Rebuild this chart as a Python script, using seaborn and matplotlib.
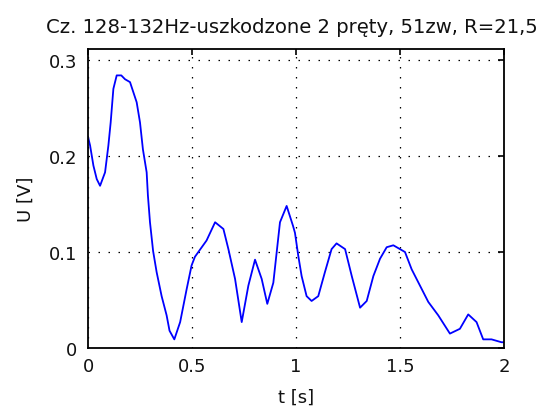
import matplotlib
matplotlib.use("Agg")
import matplotlib.pyplot as plt
import seaborn as sns
import pandas as pd

# time axis [s] and measured amplitude [V]
t = [0.000, 0.010, 0.026, 0.042, 0.058, 0.082, 0.098, 0.109, 0.122, 0.138,
     0.160, 0.178, 0.202, 0.234, 0.250, 0.264, 0.282, 0.288, 0.298, 0.313,
     0.330, 0.354, 0.378, 0.392, 0.415, 0.443, 0.474, 0.498, 0.514, 0.570,
     0.611, 0.651, 0.675, 0.707, 0.739, 0.771, 0.803, 0.835, 0.862, 0.891,
     0.923, 0.955, 0.986, 0.995, 1.011, 1.027, 1.051, 1.075, 1.107, 1.139,
     1.171, 1.195, 1.236, 1.268, 1.308, 1.340, 1.372, 1.404, 1.436, 1.468,
     1.524, 1.556, 1.596, 1.636, 1.684, 1.740, 1.788, 1.828, 1.868, 1.900,
     1.940, 1.988, 2.000]
u = [0.220, 0.211, 0.190, 0.176, 0.169, 0.183, 0.211, 0.235, 0.270, 0.284,
     0.284, 0.280, 0.277, 0.256, 0.235, 0.207, 0.183, 0.159, 0.131, 0.101,
     0.079, 0.054, 0.034, 0.018, 0.009, 0.027, 0.061, 0.086, 0.095, 0.112,
     0.131, 0.124, 0.103, 0.072, 0.027, 0.065, 0.092, 0.072, 0.046, 0.068,
     0.131, 0.148, 0.127, 0.120, 0.096, 0.075, 0.054, 0.049, 0.054, 0.079,
     0.103, 0.109, 0.103, 0.075, 0.042, 0.049, 0.075, 0.093, 0.105, 0.107,
     0.100, 0.082, 0.065, 0.048, 0.034, 0.015, 0.020, 0.035, 0.027, 0.009,
     0.009, 0.006, 0.006]

x_ticks = [0, 0.5, 1, 1.5, 2]
x_tick_labels = ["0", "0.5", "1", "1.5", "2"]
y_ticks = [0, 0.1, 0.2, 0.3]
y_tick_labels = ["0", "0.1", "0.2", "0.3"]

title = "Cz. 128-132Hz-uszkodzone 2 pręty, 51zw, R=21,5"

sns.set_theme(style="white")
plt.rcParams["font.family"] = ["DejaVu Sans"]

df = pd.DataFrame({"t": t, "u": u})

fig = plt.figure(figsize=(5.46, 4.10), dpi=100)
ax = fig.add_axes([88 / 546, 61 / 410, 416 / 546, 299 / 410])

sns.lineplot(data=df, x="t", y="u", ax=ax, color="#0000ff", linewidth=1.3)

ax.set_xlim(0, 2)
ax.set_ylim(0, 0.3115)
ax.set_xticks(x_ticks)
ax.set_xticklabels(x_tick_labels)
ax.set_yticks(y_ticks)
ax.set_yticklabels(y_tick_labels)

ax.grid(True, color="black", linestyle=(0, (1.2, 6.8)), linewidth=0.9)
for s in ax.spines.values():
    s.set_color("black")
    s.set_linewidth(1.3)
    s.set_visible(True)

ax.tick_params(direction="in", length=4, width=1.2, colors="black",
               top=True, right=True, labelsize=13)
ax.tick_params(axis="x", pad=6.5)
ax.tick_params(axis="y", pad=8)
for lab in ax.get_xticklabels() + ax.get_yticklabels():
    lab.set_color("#111111")

ax.set_xlabel("t [s]", fontsize=13, color="#111111", labelpad=9)
ax.set_ylabel("U [V]", fontsize=13, color="#111111", labelpad=10)
ax.set_title(title, fontsize=14.1, color="#111111", pad=12, x=0.49)

fig.savefig("out.png", dpi=100, facecolor="white")
